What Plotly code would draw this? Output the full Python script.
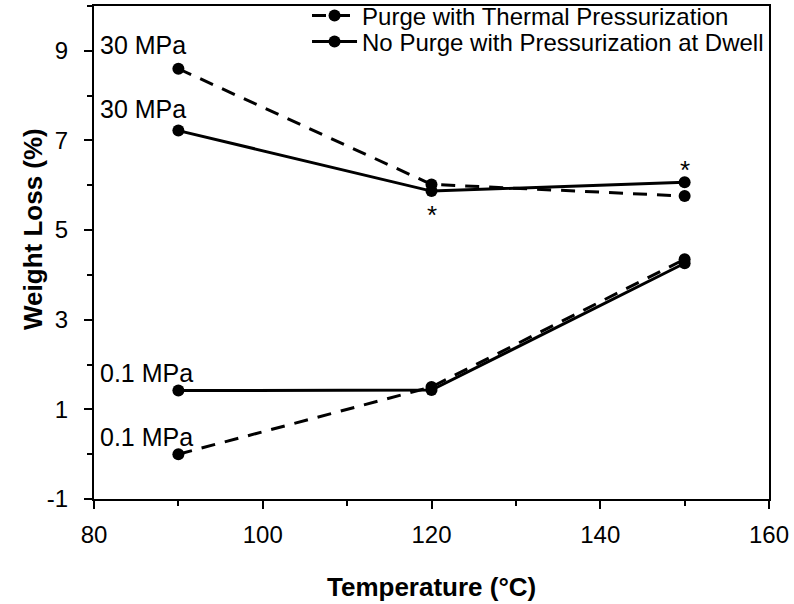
import plotly.graph_objects as go

temps = [90, 120, 150]
purge_30 = [8.6, 6.02, 5.76]
purge_01 = [0.0, 1.5, 4.35]
nopurge_30 = [7.22, 5.87, 6.07]
nopurge_01 = [1.42, 1.43, 4.26]
series_names = ["Purge with Thermal Pressurization", "No Purge with Pressurization at Dwell"]
y_ticks = [-1, 1, 3, 5, 7, 9]
y_ticktext = ["-1", "1", "3", "5", "7", "9"]
x_ticks = [80, 100, 120, 140, 160]

font = "Liberation Sans, Arial, sans-serif"
fig = go.Figure()
def add(y, dash, name, show, legend):
    fig.add_trace(go.Scatter(x=temps, y=y, mode="lines+markers", name=name, showlegend=show,
                             legendgroup=name, legend=legend,
                             line=dict(color="black", width=3, dash=dash),
                             marker=dict(color="black", size=12)))
add(purge_30, "14px,10px", series_names[0], True, "legend")
add(purge_01, "14px,10px", series_names[0], False, "legend")
add(nopurge_30, "solid", series_names[1], True, "legend2")
add(nopurge_01, "solid", series_names[1], False, "legend2")

labels = [(9.12, "30 MPa"), (7.71, "30 MPa"), (1.81, "0.1 MPa"), (0.39, "0.1 MPa")]
for y, t in labels:
    fig.add_annotation(x=80, y=y, text=t, showarrow=False, xanchor="left", yanchor="middle",
                       xshift=4, font=dict(family=font, size=25, color="black"))
fig.add_annotation(x=120, y=5.33, text="*", showarrow=False, font=dict(family=font, size=26, color="black"))
fig.add_annotation(x=150, y=6.34, text="*", showarrow=False, font=dict(family=font, size=26, color="black"))

# axis titles
fig.add_annotation(xref="paper", yref="paper", x=0.5, y=-0.1785, text="<b>Temperature (°C)</b>",
                   showarrow=False, xanchor="center", yanchor="middle",
                   font=dict(family=font, size=26, color="black"))
fig.add_annotation(xref="paper", yref="paper", x=-0.0904, y=0.5477, text="<b>Weight Loss (%)</b>",
                   showarrow=False, xanchor="center", yanchor="middle", textangle=-90,
                   font=dict(family=font, size=26, color="black"))

axis_common = dict(showgrid=False, zeroline=False, showline=True, linecolor="black", linewidth=2,
                   mirror=True, ticks="outside", ticklen=8, tickwidth=1.5, tickcolor="black",
                   automargin=False,
                   tickfont=dict(family=font, size=24, color="black"))
fig.update_xaxes(range=[80, 160], tickvals=x_ticks, ticklabelstandoff=5,
                 minor=dict(tickvals=[90, 110, 130, 150], ticks="outside", ticklen=5, tickcolor="black", tickwidth=1.5),
                 **axis_common)
fig.update_yaxes(range=[-1, 10], tickvals=y_ticks, ticktext=y_ticktext, ticklabelstandoff=11,
                 minor=dict(tickvals=[0, 2, 4, 6, 8, 10], ticks="outside", ticklen=5, tickcolor="black", tickwidth=1.5),
                 **axis_common)
leg = dict(xanchor="left", yanchor="top", bgcolor="rgba(0,0,0,0)", borderwidth=0,
           font=dict(family=font, size=24, color="black"), itemwidth=45)
fig.update_layout(width=794, height=604, plot_bgcolor="white", paper_bgcolor="white",
                  margin=dict(l=94, r=25, t=6, b=105, autoexpand=False),
                  legend=dict(x=0.3156, y=1.0254, **leg),
                  legend2=dict(x=0.3156, y=0.9726, **leg),
                  showlegend=True)
fig.write_html("out.html", config={"displayModeBar": False},
               post_script="document.body.style.margin='0';document.body.style.overflow='hidden';")
